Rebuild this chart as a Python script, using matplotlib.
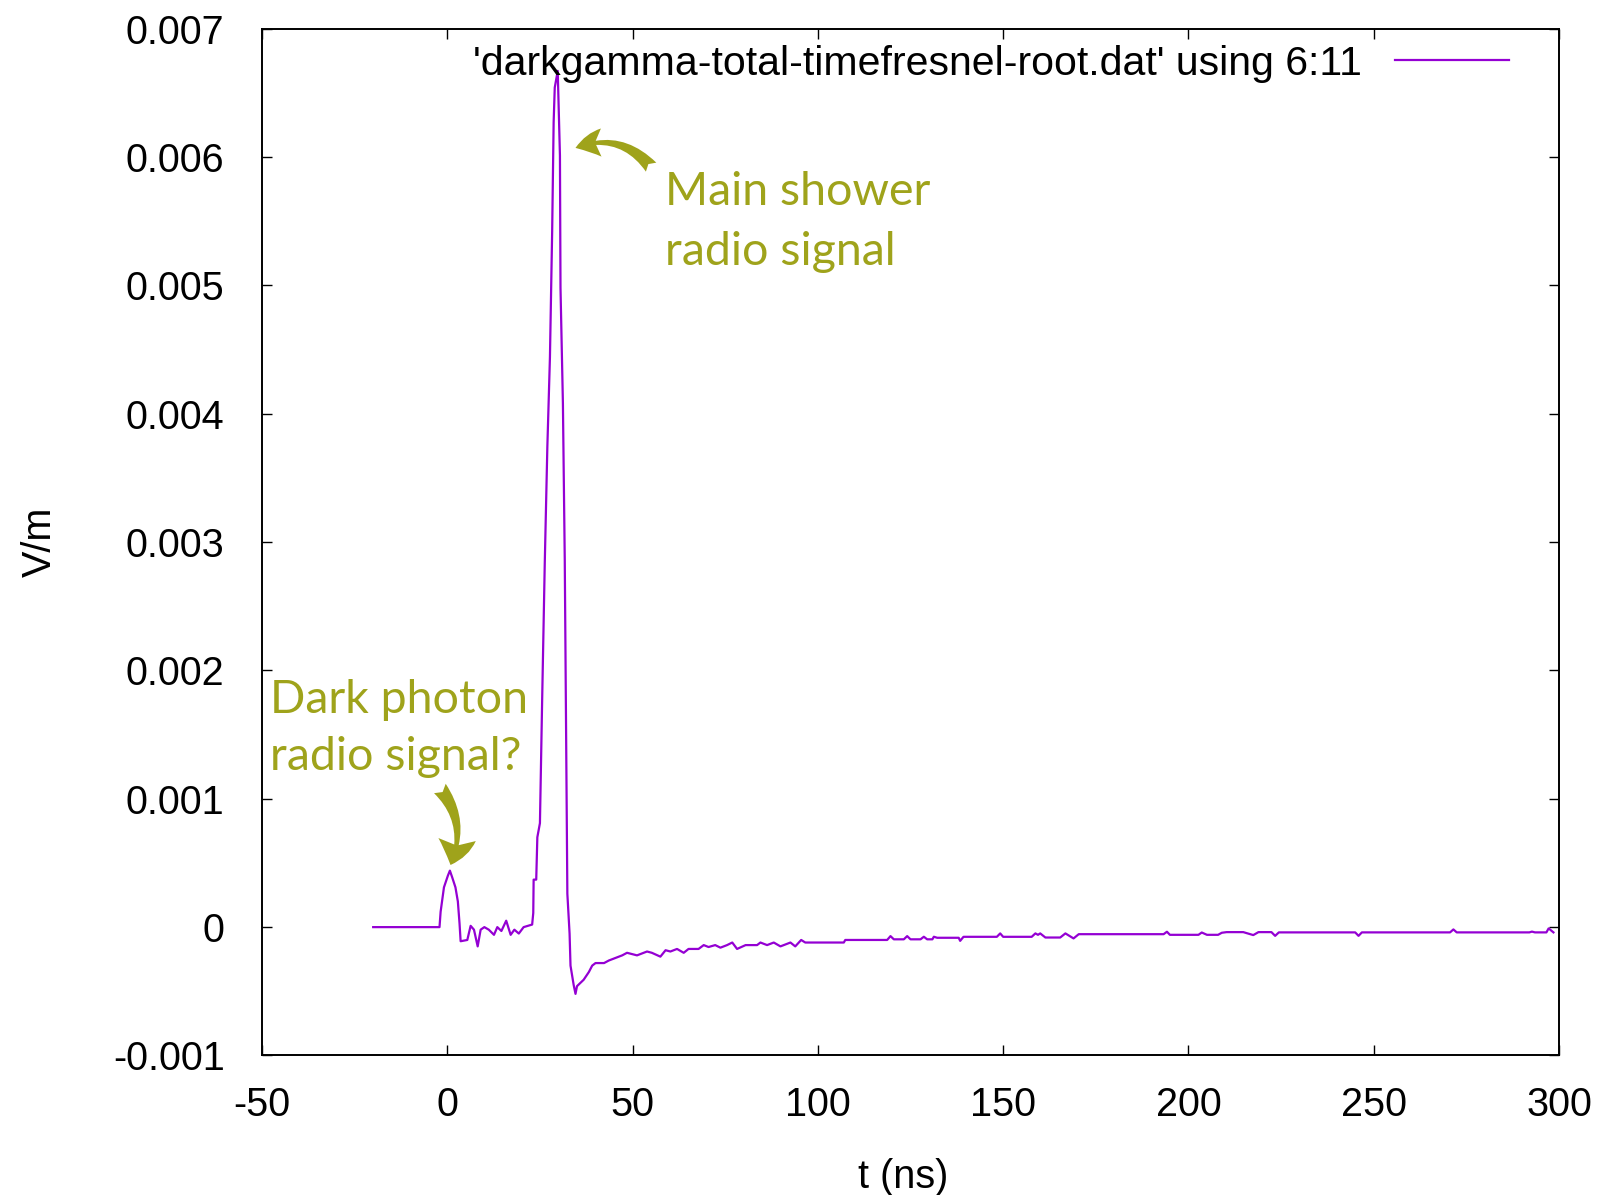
import matplotlib
matplotlib.use("Agg")
import matplotlib.pyplot as plt
from matplotlib.patches import FancyArrowPatch
from matplotlib.ticker import FuncFormatter
import numpy as np

plt.rcParams['axes.unicode_minus'] = False

# ---- data (t in ns, field in 1e-3 V/m) ----
t_ns = [-20, -2.1, -1.8, -0.9, 0.15, 0.7, 1.3, 2.2, 2.85, 3.3, 3.6, 5.4, 6.3, 7.2,
        8.2, 9.0, 10.0, 11.2, 12.6, 13.5, 14.6, 15.9, 17.1, 18.1, 19.3, 20.6,
        22.9, 23.2, 23.3, 24.0, 24.3, 25.0, 25.6, 26.3, 27.0, 27.7, 28.3, 28.7,
        29.0, 29.8, 30.4, 30.55, 31.2, 31.7, 32.4, 33.0, 33.25, 34.1, 34.6, 35.0,
        36.8, 38.2, 39.1, 40.0, 42.3, 43.6, 45.4, 47.2, 48.5, 49.9, 51.2, 53.9,
        55.2, 57.5, 58.9, 60.2, 62.0, 63.8, 65.1, 67.8, 69.2, 70.5, 72.3, 73.7,
        75.5, 76.9, 78.2, 80.5, 83.6, 84.5, 86.3, 88.1, 89.9, 92.6, 93.9, 95.5,
        96.6, 107.0, 107.4, 118.7, 119.6, 120.5, 123.2, 124.1, 125.0, 127.7,
        128.6, 129.5, 130.9, 131.3, 132.2, 138.0, 138.4, 139.3, 148.3, 149.2,
        150.0, 157.7, 158.7, 159.4, 160.0, 161.4, 165.4, 166.8, 168.0, 169.0,
        170.4, 193.3, 194.2, 195.0, 202.7, 203.6, 205.0, 208.0, 209.0, 210.3,
        214.8, 217.5, 218.9, 222.4, 223.4, 224.4, 245.0, 245.9, 246.8, 270.6,
        271.5, 272.4, 292.0, 292.7, 293.5, 296.6, 297.2, 298.5]
e_field = [0.0, 0.0, 0.12, 0.31, 0.40, 0.44, 0.39, 0.31, 0.20, 0.03, -0.11, -0.10,
           0.01, -0.02, -0.15, -0.02, 0.0, -0.02, -0.06, 0.0, -0.03, 0.05, -0.06,
           -0.02, -0.05, 0.0, 0.02, 0.11, 0.37, 0.37, 0.70, 0.81, 1.77, 2.83, 3.74,
           4.44, 5.42, 6.27, 6.54, 6.67, 6.01, 4.98, 4.08, 2.86, 0.26, -0.05, -0.30,
           -0.45, -0.52, -0.46, -0.41, -0.35, -0.30, -0.28, -0.28, -0.26, -0.24,
           -0.22, -0.20, -0.21, -0.22, -0.19, -0.20, -0.23, -0.18, -0.19, -0.17,
           -0.20, -0.17, -0.17, -0.14, -0.155, -0.14, -0.16, -0.14, -0.12, -0.17,
           -0.14, -0.14, -0.12, -0.14, -0.12, -0.15, -0.12, -0.15, -0.10, -0.12,
           -0.12, -0.10, -0.10, -0.07, -0.095, -0.095, -0.07, -0.095, -0.095,
           -0.075, -0.095, -0.095, -0.075, -0.083, -0.083, -0.107, -0.0755,
           -0.0755, -0.049, -0.0755, -0.0755, -0.049, -0.06, -0.049, -0.081,
           -0.081, -0.049, -0.07, -0.088, -0.055, -0.055, -0.036, -0.060, -0.060,
           -0.042, -0.060, -0.060, -0.044, -0.039, -0.039, -0.062, -0.039, -0.039,
           -0.068, -0.041, -0.041, -0.068, -0.041, -0.041, -0.018, -0.041, -0.041,
           -0.035, -0.041, -0.041, -0.010, -0.041]
e_scale = 1e-3

x_ticks = [-50, 0, 50, 100, 150, 200, 250, 300]
y_ticks = [-0.001, 0, 0.001, 0.002, 0.003, 0.004, 0.005, 0.006, 0.007]

series_label = "'darkgamma-total-timefresnel-root.dat' using 6:11"
main_text = ["Main shower", "radio signal"]
dark_text = ["Dark photon", "radio signal?"]

line_color = '#9400d3'
note_color = '#9fa31b'

fig = plt.figure(figsize=(16.01, 11.95), dpi=100)
ax = fig.add_axes([0.16365, 0.11674, 0.81012, 0.85941])

t = np.array(t_ns)
v = np.array(e_field) * e_scale
ax.plot(t, v, color=line_color, lw=1.6, label=series_label)

ax.set_xlim(-50, 300)
ax.set_ylim(-0.001, 0.007)
ax.set_xticks(x_ticks)
ax.set_yticks(y_ticks)
ax.yaxis.set_major_formatter(FuncFormatter(lambda y, p: '%g' % round(y, 6)))
ax.xaxis.set_major_formatter(FuncFormatter(lambda x, p: '%g' % x))

tick_font = 'Liberation Sans'
tick_size = 28.5
ax.tick_params(axis='both', which='both', direction='in', length=7.5, width=1.0,
               top=True, right=True, labelsize=tick_size, colors='black')
ax.tick_params(axis='y', pad=27)
ax.tick_params(axis='x', pad=22)
for lab in ax.get_xticklabels() + ax.get_yticklabels():
    lab.set_fontfamily(tick_font)
for s in ax.spines.values():
    s.set_linewidth(1.4)

ax.set_xlabel('t (ns)', fontsize=tick_size, fontfamily=tick_font)
ax.set_ylabel('V/m', fontsize=tick_size, fontfamily=tick_font)
ax.xaxis.set_label_coords(0.494, -0.100)
ax.yaxis.set_label_coords(-0.157, 0.5)

leg = ax.legend(loc='center right', bbox_to_anchor=(0.9614, 0.9659), frameon=False,
                markerfirst=False, handlelength=2.78, handletextpad=0.8,
                borderpad=0, borderaxespad=0,
                prop={'family': tick_font, 'size': 29.5})

note_font = 'Lato'
note_size = 33.5
ax.text(58.7, 5.625e-3, main_text[0], color=note_color, fontsize=note_size,
        fontfamily=note_font, ha='left', va='baseline')
ax.text(58.7, 5.157e-3, main_text[1], color=note_color, fontsize=note_size,
        fontfamily=note_font, ha='left', va='baseline')
ax.text(-47.9, 1.671e-3, dark_text[0], color=note_color, fontsize=note_size,
        fontfamily=note_font, ha='left', va='baseline')
ax.text(-47.9, 1.224e-3, dark_text[1], color=note_color, fontsize=note_size,
        fontfamily=note_font, ha='left', va='baseline')

arr1 = FancyArrowPatch((55.0, 5.92e-3), (34.6, 6.07e-3),
                       connectionstyle='arc3,rad=0.35',
                       arrowstyle='fancy,head_length=0.42,head_width=0.45,tail_width=0.22',
                       mutation_scale=45, color=note_color, lw=0, shrinkA=0, shrinkB=0)
ax.add_patch(arr1)
arr2 = FancyArrowPatch((-2.0, 1.08e-3), (0.88, 0.484e-3),
                       connectionstyle='arc3,rad=-0.3',
                       arrowstyle='fancy,head_length=0.42,head_width=0.6,tail_width=0.24',
                       mutation_scale=45, color=note_color, lw=0, shrinkA=0, shrinkB=0)
ax.add_patch(arr2)

fig.savefig('out.png', dpi=100)
